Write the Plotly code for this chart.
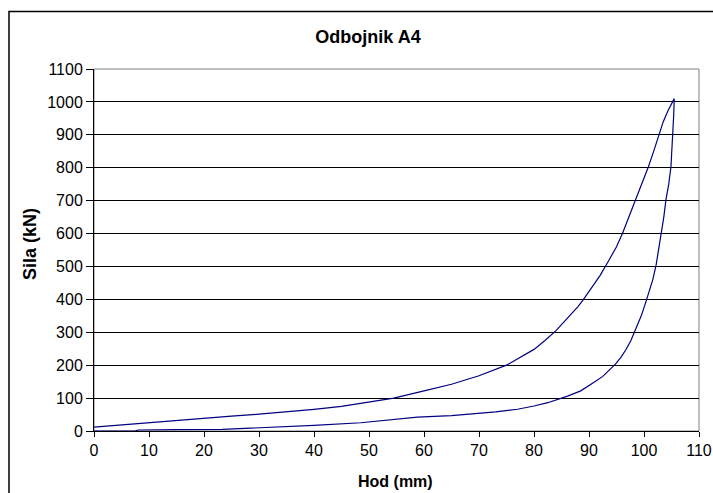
import plotly.graph_objects as go

# Loading branch (upper curve), hod in mm, sila in kN
load_x = [0, 5, 10, 15, 20, 25, 30, 35, 40, 45, 48.5, 50, 54.5, 60, 65, 70, 75, 80,
          82, 84, 86, 88, 89.0, 90.6, 92.0, 93.6, 95.0, 96.1, 97.3, 98.5, 99.7, 100.8,
          101.8, 102.7, 103.5, 104.4, 105.5]
load_y = [12, 19, 25, 31, 38, 45, 51, 58, 66, 75, 84, 87, 100, 122, 142, 168, 200, 248,
          275, 305, 340, 378, 400, 438, 472, 518, 560, 601, 652, 704, 755, 803,
          852, 901, 940, 975, 1010]

# Unloading branch (lower curve)
unload_x = [105.5, 105.4, 105.2, 104.9, 104.5, 104.0, 103.6, 103.1, 102.6, 102.2, 101.6,
            100.9, 100.3, 99.5, 98.4, 97.6, 96.7, 95.8, 94.8, 93.6, 92.5, 91.2, 90.0, 88.5,
            86.1, 84.0, 82.5, 80.0, 77.0, 73.0, 70.3, 65.0, 58.8, 53.0,
            48.5, 40.0, 30.0, 23.3, 15.0, 8.0, 7.5, 0]
unload_y = [1010, 960, 901, 803, 750, 704, 650, 601, 550, 504, 460,
            420, 390, 350, 304, 274, 247, 224, 203, 183, 166, 151, 138, 122,
            106, 94, 86, 76, 66, 58, 54, 47, 42, 32,
            25, 17, 9, 5, 4, 3, 0, 0]

x_ticks = list(range(0, 111, 10))
y_ticks = list(range(0, 1101, 100))

FONT = "Liberation Sans, Arial, sans-serif"

W, H = 713, 493
L, T = 94, 69
R = W - 699
B = H - 431
pw, ph = W - L - R, H - T - B


def px2paper_x(p):
    """Page pixel -> paper x."""
    return (p - L) / pw


def px2paper_y(p):
    """Page pixel -> paper y."""
    return (H - B - p) / ph


fig = go.Figure()
fig.add_trace(go.Scatter(
    x=load_x + unload_x, y=load_y + unload_y, mode="lines",
    line=dict(color="#000080", width=1.2), showlegend=False, hoverinfo="skip"))

fig.update_layout(
    width=W, height=H, autosize=False,
    margin=dict(l=L, r=R, t=T, b=B, pad=0, autoexpand=False),
    paper_bgcolor="white", plot_bgcolor="white",
    font=dict(family=FONT, size=16, color="black"),
    title=dict(text="<b>Odbojnik A4</b>", x=368 / W, xref="container", xanchor="center",
               y=1 - 37 / H, yref="container", yanchor="middle",
               font=dict(family=FONT, size=18, color="black")),
    xaxis=dict(range=[0, 110], tickvals=x_ticks, ticktext=[str(v) for v in x_ticks],
               showgrid=False, zeroline=False, showline=True, linecolor="black", linewidth=1,
               ticks="outside", ticklen=5, tickcolor="black", tickfont=dict(size=16),
               automargin=False),
    yaxis=dict(range=[0, 1100], tickvals=y_ticks, ticktext=[str(v) for v in y_ticks],
               showgrid=True, gridcolor="black", gridwidth=1, zeroline=False,
               showline=True, linecolor="black", linewidth=1,
               ticks="outside", ticklen=7, tickcolor="black", tickfont=dict(size=16),
               automargin=False),
    shapes=[
        dict(type="rect", xref="paper", yref="paper", x0=0, x1=1, y0=0, y1=1,
             line=dict(color="#808080", width=1), layer="below"),
        dict(type="rect", xref="paper", yref="paper",
             x0=px2paper_x(9), x1=px2paper_x(740), y0=px2paper_y(510), y1=px2paper_y(11.5),
             line=dict(color="black", width=1.5), fillcolor="rgba(0,0,0,0)"),
    ],
    annotations=[
        dict(text="<b>Hod (mm)</b>", xref="paper", yref="paper",
             x=px2paper_x(395), y=px2paper_y(482), xanchor="center", yanchor="middle",
             showarrow=False, font=dict(family=FONT, size=16, color="black")),
        dict(text="<b>Sila (kN)</b>", xref="paper", yref="paper",
             x=px2paper_x(30), y=px2paper_y(244), xanchor="center", yanchor="middle",
             textangle=-90, showarrow=False, font=dict(family=FONT, size=18, color="black")),
    ],
)

fig.write_html("out.html", config={"displayModeBar": False},
               post_script="document.body.style.margin='0';document.body.style.overflow='hidden';")
